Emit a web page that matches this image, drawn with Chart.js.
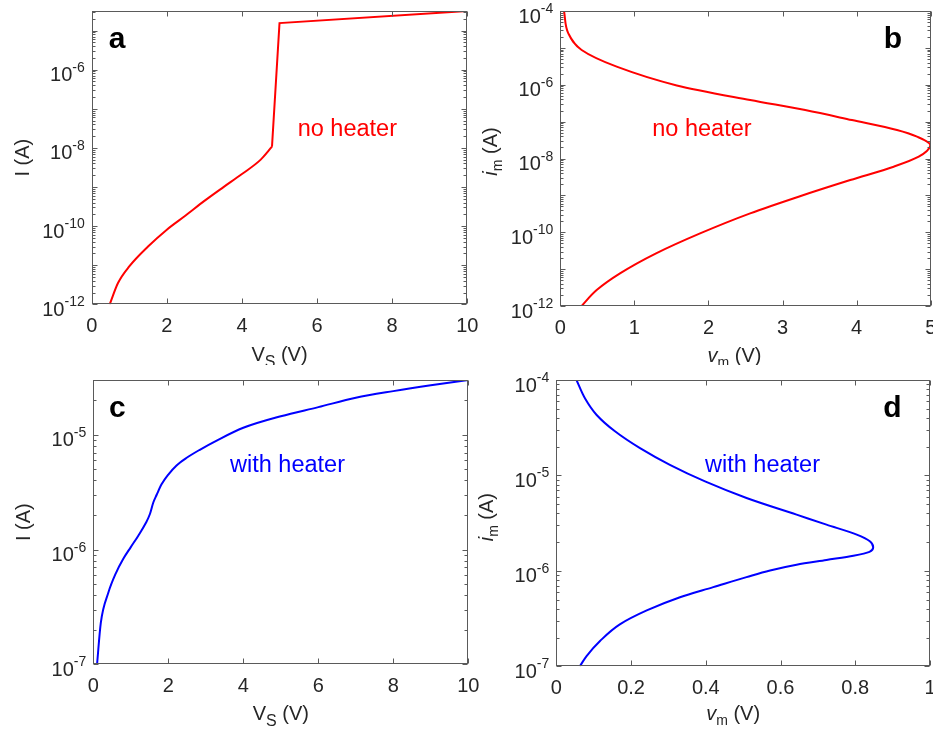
<!DOCTYPE html>
<html><head><meta charset="utf-8">
<script src="https://cdn.jsdelivr.net/npm/chart.js@4/dist/chart.umd.min.js"></script>
<style>
html,body{margin:0;padding:0;background:#fff;overflow:hidden;width:933px;height:734px;}
.p{position:absolute;}
</style></head><body>
<div class="p" style="left:0px;top:0px;width:500px;height:365px"><canvas id="ca"></canvas></div>
<div class="p" style="left:460px;top:0px;width:473px;height:365px"><canvas id="cb"></canvas></div>
<div class="p" style="left:0px;top:365px;width:500px;height:369px"><canvas id="cc"></canvas></div>
<div class="p" style="left:460px;top:365px;width:473px;height:369px"><canvas id="cd"></canvas></div>
<script>
// ---- data ----
// panel a: no heater, I vs V_S
const vsA = [0.48, 0.7, 1.0, 1.5, 2.0, 2.5, 3.0, 3.5, 4.0, 4.5, 4.8, 5.0, 10];
const iA  = [1e-12, 3.5e-12, 9.3e-12, 3.0e-11, 8.1e-11, 1.86e-10, 4.4e-10, 9.8e-10, 2.14e-9, 5.0e-9, 1.07e-8, 1.55e-5, 3.16e-5];
// panel b: no heater, i_m vs v_m
const vmB = [0.05, 0.108, 0.288, 0.761, 1.572, 2.563, 3.306, 3.937, 4.545, 4.815, 4.995, 4.838, 4.50, 3.914, 3.216, 2.563, 1.887, 1.293, 0.806, 0.491, 0.288];
const imB = [1e-4, 2.48e-5, 8.75e-6, 3.09e-6, 9.6e-7, 3.85e-7, 2.06e-7, 1.1e-7, 5.9e-8, 3.9e-8, 2.32e-8, 1.12e-8, 6.0e-9, 2.6e-9, 9.2e-10, 3.25e-10, 9.3e-11, 2.67e-11, 7.65e-12, 2.7e-12, 1e-12];
// panel c: with heater, I vs V_S
const vsC = [0.1, 0.2, 0.4, 0.6, 0.8, 1.0, 1.2, 1.4, 1.51, 1.6, 1.69, 1.82, 2.0, 2.22, 2.49, 2.84, 3.29, 4, 5, 6, 7, 8, 9, 10];
const iC  = [1e-7, 2.3e-7, 4.2e-7, 6.2e-7, 8.3e-7, 1.05e-6, 1.32e-6, 1.70e-6, 2.04e-6, 2.57e-6, 3.0e-6, 3.7e-6, 4.5e-6, 5.4e-6, 6.3e-6, 7.4e-6, 8.9e-6, 1.15e-5, 1.45e-5, 1.74e-5, 2.1e-5, 2.4e-5, 2.7e-5, 3.0e-5];
// panel d: with heater, i_m vs v_m
const vmD = [0.054, 0.077, 0.108, 0.157, 0.224, 0.304, 0.398, 0.509, 0.643, 0.723, 0.804, 0.839, 0.848, 0.838, 0.795, 0.723, 0.643, 0.572, 0.509, 0.420, 0.331, 0.242, 0.170, 0.117, 0.081, 0.063];
const imD = [1e-4, 6.4e-5, 4.3e-5, 2.9e-5, 1.93e-5, 1.29e-5, 8.65e-6, 5.8e-6, 3.88e-6, 3.05e-6, 2.4e-6, 2.04e-6, 1.77e-6, 1.58e-6, 1.44e-6, 1.30e-6, 1.16e-6, 1.01e-6, 8.6e-7, 6.75e-7, 5.3e-7, 3.85e-7, 2.75e-7, 1.84e-7, 1.28e-7, 1e-7];
// tick labels (exponents of the labelled decades)
const yTickExpA = [-12, -10, -8, -6];
const yTickExpB = [-12, -10, -8, -6, -4];
const yTickExpC = [-7, -6, -5];
const yTickExpD = [-7, -6, -5, -4];
const panelLetters = ['a', 'b', 'c', 'd'];
const notes = ['no heater', 'no heater', 'with heater', 'with heater'];

const FONT = "'Liberation Sans', Arial, Helvetica, sans-serif";
const INK = '#262626';
const RED = '#ff0000', BLUE = '#0000ff';

function drawParts(ctx, parts, cx, cy, rot) {
  let total = 0;
  parts.forEach(p => { ctx.font = p.f; p.w = ctx.measureText(p.t).width; total += p.w; });
  ctx.save(); ctx.translate(cx, cy); if (rot) ctx.rotate(-Math.PI / 2);
  ctx.textAlign = 'left'; ctx.textBaseline = 'alphabetic';
  let x = -total / 2;
  parts.forEach(p => { ctx.font = p.f; ctx.fillText(p.t, x, p.dy || 0); x += p.w; });
  ctx.restore();
}

const matlab = {
  id: 'matlab',
  afterDraw(chart, args, o) {
    const ctx = chart.ctx, ca = chart.chartArea, xs = chart.scales.x, ys = chart.scales.y;
    ctx.save();
    ctx.strokeStyle = '#5a5a5a'; ctx.lineWidth = 1;
    const L = Math.round(ca.left) + 0.5, R = Math.round(ca.right) - 0.5, T = Math.round(ca.top) + 0.5, B = Math.round(ca.bottom) - 0.5;
    ctx.strokeRect(L, T, R - L, B - T);
    ctx.beginPath();
    xs.ticks.forEach(t => {
      const px = Math.round(xs.getPixelForValue(t.value)) + 0.5;
      ctx.moveTo(px, B); ctx.lineTo(px, B - 5); ctx.moveTo(px, T); ctx.lineTo(px, T + 5);
    });
    const e0 = Math.floor(Math.log10(ys.min) + 1e-9), e1 = Math.ceil(Math.log10(ys.max) - 1e-9);
    for (let e = e0; e <= e1; e++) for (let k = 1; k <= 9; k++) {
      const v = k * Math.pow(10, e);
      if (v < ys.min * 0.999 || v > ys.max * 1.001) continue;
      const py = Math.round(ys.getPixelForValue(v)) + 0.5;
      const len = k === 1 ? 5 : 3;
      ctx.moveTo(L, py); ctx.lineTo(L + len, py); ctx.moveTo(R, py); ctx.lineTo(R - len, py);
    }
    ctx.stroke();
    // y tick labels 10^e
    ctx.fillStyle = INK; ctx.textAlign = 'left'; ctx.textBaseline = 'alphabetic';
    o.yExp.forEach(e => {
      const py = ys.getPixelForValue(Math.pow(10, e));
      const sup = String(e);
      ctx.font = `20px ${FONT}`; const w10 = ctx.measureText('10').width;
      ctx.font = `14px ${FONT}`; const ws = ctx.measureText(sup).width;
      const xr = ca.left - 7;
      ctx.font = `20px ${FONT}`; ctx.fillText('10', xr - ws - w10, py + 11.5);
      ctx.font = `14px ${FONT}`; ctx.fillText(sup, xr - ws, py + 2);
    });
    // axis titles
    drawParts(ctx, o.xTitle, (ca.left + ca.right) / 2 + o.xTitleDx, ca.bottom + o.xTitleDy, false);
    drawParts(ctx, o.yTitle, ca.left - 63, (ca.top + ca.bottom) / 2 + o.yTitleDy, true);
    // annotation
    ctx.fillStyle = o.noteColor; ctx.font = `23.5px ${FONT}`; ctx.textAlign = 'left';
    ctx.fillText(o.note, ca.left + o.noteDx, ca.top + o.noteDy);
    // panel letter
    ctx.fillStyle = '#000'; ctx.font = `bold 30px ${FONT}`;
    if (o.letterRight) { ctx.textAlign = 'right'; ctx.fillText(o.letter, ca.right - o.letterDx, ca.top + 37.3); }
    else { ctx.textAlign = 'left'; ctx.fillText(o.letter, ca.left + o.letterDx, ca.top + 37.3); }
    ctx.restore();
  }
};

const pts = (xs, ys) => xs.map((x, i) => ({ x, y: ys[i] }));
const line = (data, color, smooth) => ({
  data, borderColor: color, backgroundColor: color, borderWidth: 2, pointRadius: 0, fill: false,
  tension: 0, cubicInterpolationMode: smooth ? 'monotone' : 'default'
});

function makeChart(id, datasets, xr, yr, pad, yWidth, xHeight, plug, indexAxis) {
  return new Chart(document.getElementById(id), {
    type: 'line',
    data: { datasets },
    options: {
      indexAxis: indexAxis || 'x',
      responsive: true, maintainAspectRatio: false, animation: false, events: [],
      layout: { padding: pad },
      plugins: { legend: { display: false }, tooltip: { enabled: false }, matlab: plug },
      scales: {
        x: {
          type: 'linear', position: 'bottom', min: xr[0], max: xr[1],
          ticks: { stepSize: xr[2], color: INK, font: { family: FONT, size: 20 }, padding: 10, maxRotation: 0, autoSkip: false,
                   callback: v => String(Number(Number(v).toFixed(2))) },
          grid: { display: false, drawTicks: false }, border: { display: false },
          afterFit(s) { s.height = xHeight; s.paddingLeft = 0; s.paddingRight = 0; }
        },
        y: {
          type: 'logarithmic', position: 'left', min: yr[0], max: yr[1], bounds: 'data',
          ticks: { display: false }, grid: { display: false, drawTicks: false }, border: { display: false },
          afterFit(s) { s.width = yWidth; s.paddingTop = 0; s.paddingBottom = 0; }
        }
      }
    },
    plugins: [matlab]
  });
}

const titleVS = [{ t: 'V', f: `20px ${FONT}` }, { t: 'S', f: `16px ${FONT}`, dy: 6 }, { t: ' (V)', f: `20px ${FONT}` }];
const titleI = [{ t: 'I (A)', f: `20px ${FONT}` }];
const titleVm = [{ t: 'v', f: `italic 20px ${FONT}` }, { t: 'm', f: `14px ${FONT}`, dy: 5 }, { t: ' (V)', f: `20px ${FONT}` }];
const titleIm = [{ t: 'i', f: `italic 20px ${FONT}` }, { t: 'm', f: `14px ${FONT}`, dy: 5 }, { t: ' (A)', f: `20px ${FONT}` }];

const kinkA = vsA.indexOf(4.8);
makeChart('ca',
  [line(pts(vsA.slice(0, kinkA + 1), iA.slice(0, kinkA + 1)), RED, true),
   line(pts(vsA.slice(kinkA), iA.slice(kinkA)), RED, false)],
  [0, 10, 2], [1e-12, 3.16e-5], { left: 0, top: 11, right: 32.7, bottom: 0 }, 91.7, 60.7,
  { yExp: yTickExpA, xTitle: titleVS, xTitleDx: 0, xTitleDy: 56.7, yTitle: titleI, yTitleDy: 0,
    note: notes[0], noteColor: RED, noteDx: 206, noteDy: 124.7, letter: panelLetters[0], letterDx: 17, letterRight: false });

makeChart('cb', [line(pts(vmB, imB), RED, true)],
  [0, 5, 1], [1e-12, 1e-4], { left: 0, top: 11, right: 2.3, bottom: 0 }, 100.3, 59,
  { yExp: yTickExpB, xTitle: titleVm, xTitleDx: -11, xTitleDy: 56, yTitle: titleIm, yTitleDy: -7,
    note: notes[1], noteColor: RED, noteDx: 92, noteDy: 124.7, letter: panelLetters[1], letterDx: 28.5, letterRight: true }, 'y');

makeChart('cc', [line(pts(vsC, iC), BLUE, true)],
  [0, 10, 2], [1e-7, 3e-5], { left: 0, top: 15, right: 31.7, bottom: 0 }, 93.3, 69.7,
  { yExp: yTickExpC, xTitle: titleVS, xTitleDx: 0, xTitleDy: 55.7, yTitle: titleI, yTitleDy: 0,
    note: notes[2], noteColor: BLUE, noteDx: 136.7, noteDy: 92.3, letter: panelLetters[2], letterDx: 15.7, letterRight: false });

makeChart('cd', [line(pts(vmD, imD), BLUE, true)],
  [0, 1, 0.2], [1e-7, 1e-4], { left: 0, top: 15, right: 3, bottom: 0 }, 96.3, 67.7,
  { yExp: yTickExpD, xTitle: titleVm, xTitleDx: -10, xTitleDy: 53.7, yTitle: titleIm, yTitleDy: -6,
    note: notes[3], noteColor: BLUE, noteDx: 148.7, noteDy: 92.3, letter: panelLetters[3], letterDx: 28.3, letterRight: true }, 'y');
</script>
</body></html>
